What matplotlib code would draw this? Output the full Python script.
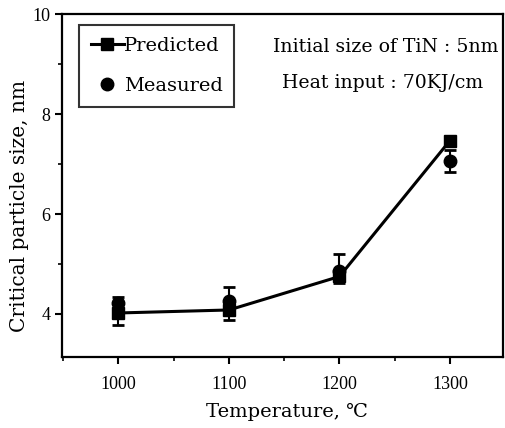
import matplotlib
matplotlib.use("Agg")
import matplotlib.pyplot as plt
from matplotlib.ticker import MultipleLocator
from matplotlib.lines import Line2D

temps = [1000, 1100, 1200, 1300]
predicted = [4.02, 4.08, 4.75, 7.47]
measured = [4.22, 4.25, 4.85, 7.06]
err_low = [0.44, 0.37, 0.23, 0.22]
err_high = [0.12, 0.29, 0.35, 0.22]

plt.rcParams['font.family'] = ['DejaVu Serif']
fig = plt.figure(figsize=(5.05, 4.28), dpi=100)
ax = fig.add_axes([0.123, 0.166, 0.873, 0.801])

ax.errorbar(temps, measured, yerr=[err_low, err_high], fmt='o', color='black',
            ms=9, capsize=4, elinewidth=1.5, capthick=2, zorder=3)
ax.plot(temps, predicted, '-s', color='black', lw=2.2, ms=9, zorder=4)

ax.set_xlim(949, 1348)
ax.set_ylim(3.14, 10)
ax.set_xticks(temps)
ax.set_yticks([4, 6, 8, 10])
ax.xaxis.set_minor_locator(MultipleLocator(50))
ax.yaxis.set_minor_locator(MultipleLocator(1))
ax.tick_params(which='major', direction='out', length=5, width=1.5, labelsize=12)
ax.tick_params(axis='x', which='major', pad=9)
ax.tick_params(which='minor', direction='out', length=3, width=1.2)
for lab in ax.get_xticklabels() + ax.get_yticklabels():
    lab.set_family('Liberation Serif')
    lab.set_fontsize(13)
for s in ax.spines.values():
    s.set_linewidth(1.6)

ax.set_xlabel('Temperature, ℃', fontsize=14)
ax.xaxis.set_label_coords(0.51, -0.135)
ax.set_ylabel('Critical particle size, nm', fontsize=14.5)
ax.yaxis.set_label_coords(-0.075, 0.44)

proxy_pred = Line2D([], [], color='black', lw=2.2, marker='s', ms=9)
proxy_meas = Line2D([], [], color='black', lw=0, marker='o', ms=9)
leg = ax.legend([proxy_pred, proxy_meas], ['Predicted', 'Measured'], loc='upper left',
                bbox_to_anchor=(0.025, 0.985),
                fontsize=14, frameon=True, fancybox=False, edgecolor='black',
                handlelength=1.7, handletextpad=0.0, borderpad=0.6, labelspacing=1.15,
                borderaxespad=0.3)
leg.get_frame().set_linewidth(1.5)

ax.text(0.478, 0.905, 'Initial size of TiN : 5nm', transform=ax.transAxes, fontsize=13.6, va='center')
ax.text(0.498, 0.80, 'Heat input : 70KJ/cm', transform=ax.transAxes, fontsize=13.6, va='center')

fig.savefig('out.png', dpi=100)
